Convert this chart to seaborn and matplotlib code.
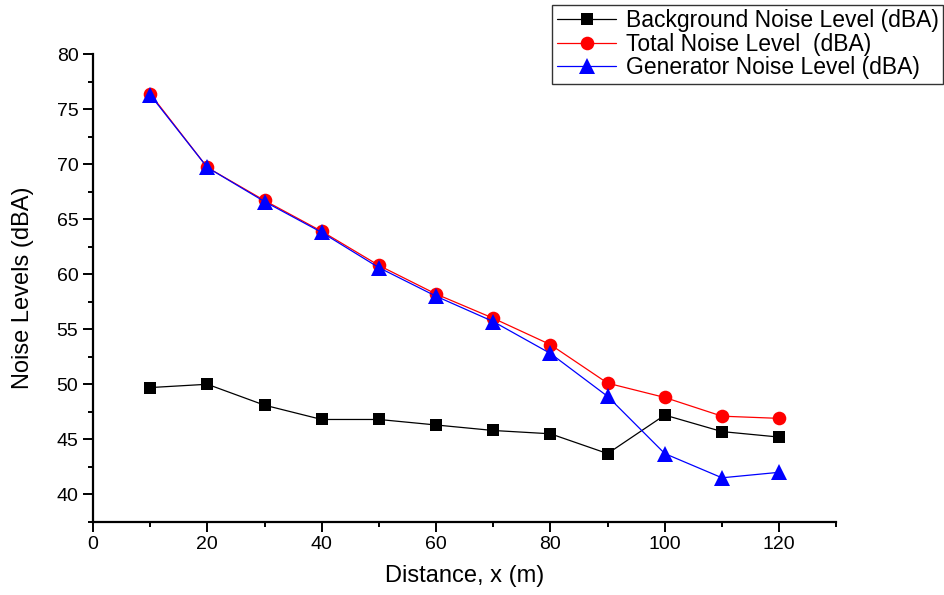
import pandas as pd
import seaborn as sns
import matplotlib.pyplot as plt
from matplotlib.ticker import MultipleLocator

distance = [10, 20, 30, 40, 50, 60, 70, 80, 90, 100, 110, 120]
background = [49.7, 50.0, 48.1, 46.8, 46.8, 46.3, 45.8, 45.5, 43.7, 47.2, 45.7, 45.2]
total = [76.4, 69.7, 66.7, 63.9, 60.8, 58.2, 56.0, 53.6, 50.1, 48.8, 47.1, 46.9]
generator = [76.3, 69.7, 66.6, 63.8, 60.6, 58.0, 55.7, 52.8, 48.9, 43.7, 41.5, 42.0]

labels = ["Background Noise Level (dBA)", "Total Noise Level  (dBA)",
          "Generator Noise Level (dBA)"]

df = pd.DataFrame({
    "Distance": distance * 3,
    "Level": background + total + generator,
    "Series": [labels[0]] * 12 + [labels[1]] * 12 + [labels[2]] * 12,
})

sns.set_style("ticks")
plt.rcParams['font.family'] = ['Liberation Sans', 'DejaVu Sans']
plt.rcParams['text.color'] = 'black'
plt.rcParams['axes.labelcolor'] = 'black'

fig = plt.figure(figsize=(9.45, 5.95), dpi=100)
ax = fig.add_axes([0.0984, 0.123, 0.7866, 0.786])

ax = sns.lineplot(data=df, x="Distance", y="Level", hue="Series", style="Series",
                  palette=["black", "red", "blue"], markers=["s", "o", "^"],
                  dashes=False, linewidth=0.9, markeredgewidth=0,
                  ax=ax, legend=False)
for line, ms in zip(ax.lines, [8, 9.8, 11.5]):
    line.set_markersize(ms)

ax.set_xlim(0, 130)
ax.set_ylim(37.5, 80)
ax.xaxis.set_major_locator(MultipleLocator(20))
ax.xaxis.set_minor_locator(MultipleLocator(10))
ax.yaxis.set_major_locator(MultipleLocator(5))
ax.yaxis.set_minor_locator(MultipleLocator(2.5))
ax.tick_params(which="major", length=7, width=1.4, labelsize=14, colors="black")
ax.tick_params(which="minor", length=3.5, width=1.4, colors="black")
for s in ["left", "bottom"]:
    ax.spines[s].set_linewidth(1.6)
    ax.spines[s].set_color("black")
sns.despine(ax=ax)

ax.set_xlabel("Distance, x (m)", fontsize=17)
ax.set_ylabel("Noise Levels (dBA)", fontsize=17)
ax.xaxis.set_label_coords(0.5, -0.092)
ax.yaxis.set_label_coords(-0.08, 0.5)

leg = fig.legend(ax.lines, labels, loc="upper right",
                 bbox_to_anchor=(0.998, 0.992), fontsize=16.5,
                 frameon=True, fancybox=False, edgecolor="black",
                 handlelength=2.6, borderpad=0.2, labelspacing=0.02,
                 handletextpad=0.4, borderaxespad=0)
leg.get_frame().set_linewidth(1.0)

fig.savefig("out.png", dpi=100)
